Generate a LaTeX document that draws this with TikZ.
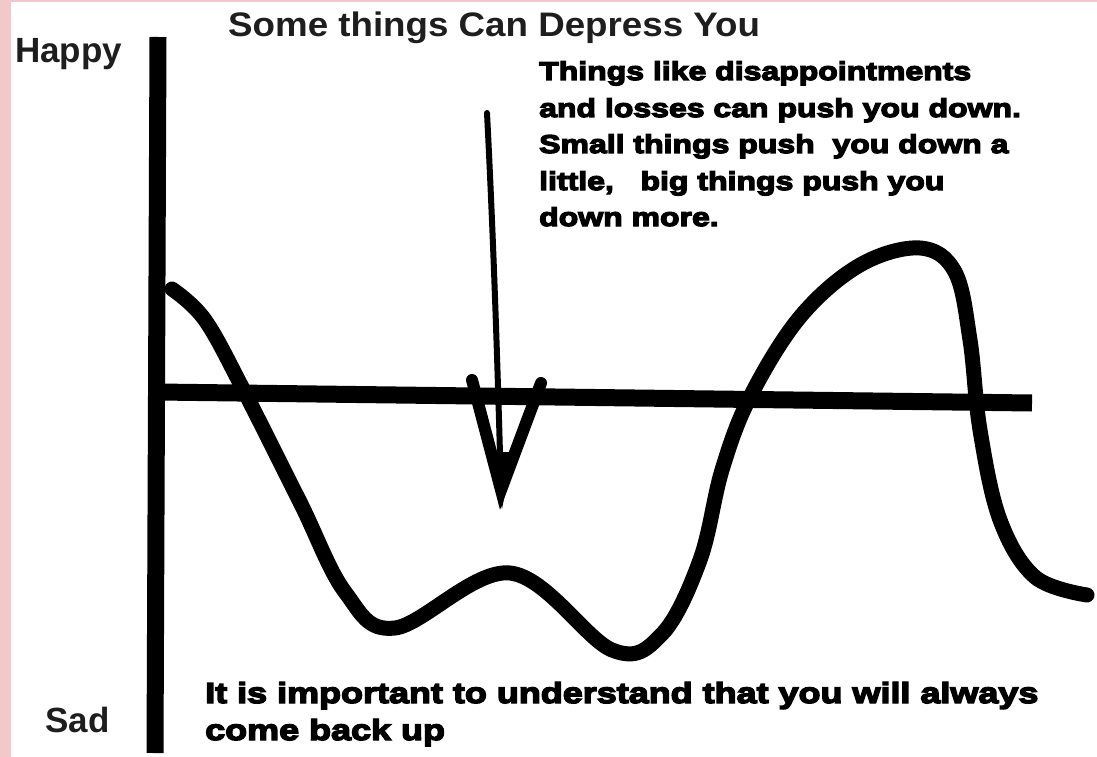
\documentclass[tikz,border=0pt]{standalone}
\usepackage{fontspec}
\usepackage{xcolor}
\usepackage{tikz}
\setmainfont{Liberation Sans}
\newfontfamily\heavyfont{Liberation Sans}[FakeStretch=1.24,FakeBold=5]
\newfontfamily\titlefont{Liberation Sans}[FakeStretch=1.08]
\definecolor{edgepink}{HTML}{F2C8CA}
\definecolor{inkgray}{HTML}{1E1E1E}
\tikzset{
  axisline/.style={line width=17pt},
  moodline/.style={line width=15pt,line cap=round,line join=round},
  pushline/.style={line width=#1,line cap=round},
  moodlabel/.style={anchor=base west,inner sep=0pt,text=inkgray,font=\bfseries\fontsize{35}{40}\selectfont},
  blurb/.style={anchor=base west,inner sep=0pt,font=\heavyfont\bfseries\fontsize{#1}{#1}\selectfont}
}

\begin{document}
\begin{tikzpicture}[x=1pt,y=-1pt]
	\useasboundingbox (0,0) rectangle (1097,757);
	\fill[edgepink] (0,0) rectangle (1097,757);
	\fill[white] (11,2.5) rectangle (1097,757);
	% axes
	\coordinate (ytop) at (158,37);
	\coordinate (ybot) at (155,753);
	\coordinate (xleft) at (158,392);
	\coordinate (xright) at (1032,403);
	\draw[axisline] (ytop) -- (ybot);
	\draw[axisline] (xleft) -- (xright);
	% the ups and downs
	\draw[moodline] plot[smooth,tension=0.6] coordinates {(172,289) (205,320) (244,391) (300,502) (345,592) (395,628) (510,573) (612,650) (662,634) (700,560) (722,470) (750,397) (800,317) (860,265) (920,248) (955,272) (970,340) (980,430) (1000,520) (1035,577) (1087,595)};
	% push-down arrow
	\coordinate (push) at (487,113);
	\coordinate (tip) at (501,490);
	\coordinate (barbL) at (472,380);
	\coordinate (barbR) at (541,383);
	\draw[pushline=6pt] (push) .. controls (494,250) and (498,380) .. (tip);
	\draw[pushline=12pt] (barbL) -- (tip) -- (barbR);
	\fill (489,452) -- (513,452) -- (502,509) -- cycle;
	% labels
	\node[moodlabel] (happy) at (15,63) {Happy};
	\node[moodlabel] (sad) at (45,732) {Sad};
	\node[anchor=base west,inner sep=0pt,text=inkgray,font=\titlefont\bfseries\fontsize{34}{40}\selectfont] (title) at (228,37) {Some things Can Depress You};
	\foreach \i/\y/\txt in {1/80/{Things like disappointments},2/117/{and losses can push you down.},3/153/{Small things push\ \ you down a},4/190/{little,\ \ \ big things push you},5/226/{down more.}}
		{\node[blurb=25.8] (note\i) at (539,\y) {\txt};}
	\node[blurb=29] (backup1) at (205,703) {It is important to understand that you will always};
	\node[blurb=29] (backup2) at (205,740) {come back up};
\end{tikzpicture}
\end{document}
